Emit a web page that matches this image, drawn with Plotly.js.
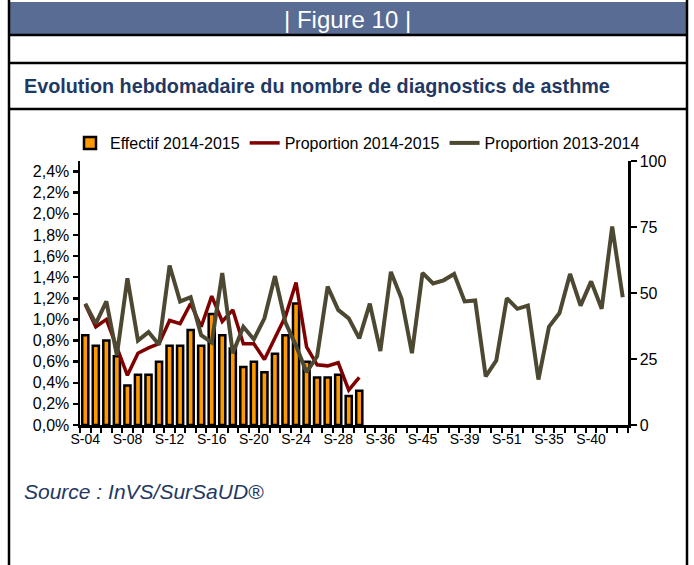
<!DOCTYPE html>
<html>
<head>
<meta charset="utf-8">
<script src="https://cdn.plot.ly/plotly-3.0.1.min.js"></script>
<style>
  html, body { margin: 0; padding: 0; background: #ffffff; }
  #chart { width: 694px; height: 565px; }
</style>
</head>
<body>
<div id="chart"></div>
<script>
// ---- Data ----
const tickLabels = ["S-04", "S-08", "S-12", "S-16", "S-20", "S-24", "S-28",
                    "S-36", "S-45", "S-39", "S-51", "S-35", "S-40"];

const leftTickValues = [0, 0.2, 0.4, 0.6, 0.8, 1.0, 1.2, 1.4, 1.6, 1.8, 2.0, 2.2, 2.4];
const leftTickLabels = ["0,0%", "0,2%", "0,4%", "0,6%", "0,8%", "1,0%", "1,2%",
                        "1,4%", "1,6%", "1,8%", "2,0%", "2,2%", "2,4%"];

// Effectif 2014-2015 (weekly count, right axis 0-100)
const effectif2014_2015 = [34, 30, 32, 26, 15, 19, 19, 24, 30, 30, 36, 30, 42, 34,
                           29, 22, 24, 20, 27, 34, 46, 24, 18, 18, 19, 11, 13];

// Proportion 2014-2015 (% , left axis)
const proportion2014_2015 = [1.14, 0.93, 1.00, 0.73, 0.47, 0.68, 0.73, 0.77, 0.99, 0.96,
                             1.15, 0.93, 1.22, 0.98, 1.09, 0.77, 0.77, 0.62, 0.82, 1.03,
                             1.35, 0.74, 0.57, 0.56, 0.59, 0.33, 0.45];

// Proportion 2013-2014 (% , left axis)
const proportion2013_2014 = [1.15, 0.96, 1.17, 0.66, 1.39, 0.80, 0.88, 0.76, 1.51, 1.17,
                             1.21, 0.85, 0.78, 1.44, 0.68, 0.93, 0.81, 1.01, 1.41, 0.97,
                             0.75, 0.50, 0.65, 1.31, 1.09, 1.01, 0.82, 1.15, 0.70, 1.45,
                             1.20, 0.68, 1.44, 1.34, 1.37, 1.43, 1.17, 1.18, 0.46, 0.61,
                             1.20, 1.10, 1.13, 0.43, 0.93, 1.06, 1.43, 1.13, 1.36, 1.10,
                             1.88, 1.21];

const nWeeks = proportion2013_2014.length;
const weekIndex = (arr) => arr.map((_, i) => i);
const tickPositions = tickLabels.map((_, i) => i * 4);

// ---- layout helpers (pixel -> paper) ----
const W = 694, H = 565;
const M = { l: 80, r: 66, t: 161, b: 140 };
const PW = W - M.l - M.r, PH = H - M.t - M.b;
const px = (x) => (x - M.l) / PW;
const py = (y) => (H - M.b - y) / PH;

const FONT = "Liberation Sans, Arial, sans-serif";
const NAVY = "#1F3864";

const traces = [
  {
    type: "bar",
    name: "Effectif 2014-2015",
    x: weekIndex(effectif2014_2015),
    y: effectif2014_2015,
    yaxis: "y",
    width: 0.58,
    marker: { color: "#FF9900", line: { color: "#000000", width: 2.5 } },
    hoverinfo: "skip"
  },
  {
    type: "scatter",
    mode: "lines",
    name: "Proportion 2014-2015",
    x: weekIndex(proportion2014_2015),
    y: proportion2014_2015,
    yaxis: "y2",
    line: { color: "#800000", width: 3.5 },
    hoverinfo: "skip"
  },
  {
    type: "scatter",
    mode: "lines",
    name: "Proportion 2013-2014",
    x: weekIndex(proportion2013_2014),
    y: proportion2013_2014,
    yaxis: "y2",
    line: { color: "#4D4831", width: 4 },
    hoverinfo: "skip"
  }
];

const blackLine = (x0, y0, x1, y1, w) => ({
  type: "line", xref: "paper", yref: "paper",
  x0: px(x0), y0: py(y0), x1: px(x1), y1: py(y1),
  line: { color: "#000000", width: w }
});

const layout = {
  width: W, height: H,
  margin: M,
  paper_bgcolor: "#ffffff",
  plot_bgcolor: "#ffffff",
  font: { family: FONT, color: "#000000", size: 16 },
  showlegend: true,
  legend: {
    orientation: "h",
    x: px(70), xanchor: "left",
    y: py(143), yanchor: "middle",
    font: { family: FONT, size: 16, color: "#000000" },
    bgcolor: "rgba(0,0,0,0)",
    itemwidth: 30,
    tracegroupgap: 0
  },
  xaxis: {
    range: [-0.5, nWeeks - 0.5],
    tickvals: tickPositions,
    ticktext: tickLabels,
    ticks: "",
    showgrid: false,
    zeroline: false,
    showline: true,
    linecolor: "#000000",
    linewidth: 2.5,
    tickfont: { family: FONT, size: 14, color: "#000000" },
    minor: { ticks: "outside", tick0: -0.5, dtick: 1, ticklen: 5, tickwidth: 2, tickcolor: "#000000", showgrid: false }
  },
  yaxis: {
    side: "right",
    range: [0, 100],
    dtick: 25,
    tick0: 0,
    ticks: "outside",
    ticklen: 6,
    tickwidth: 2.5,
    tickcolor: "#000000",
    showgrid: false,
    zeroline: false,
    showline: true,
    linecolor: "#000000",
    linewidth: 2.5,
    tickfont: { family: FONT, size: 16, color: "#000000" }
  },
  yaxis2: {
    overlaying: "y",
    side: "left",
    range: [0, 2.5],
    tickvals: leftTickValues,
    ticktext: leftTickLabels,
    ticks: "outside",
    ticklen: 5,
    tickwidth: 2.5,
    tickcolor: "#000000",
    showgrid: false,
    zeroline: false,
    showline: true,
    linecolor: "#000000",
    linewidth: 2.5,
    tickfont: { family: FONT, size: 16, color: "#000000" }
  },
  shapes: [
    { type: "rect", xref: "paper", yref: "paper", layer: "below",
      x0: px(9), x1: px(687), y0: py(2), y1: py(34),
      fillcolor: "#586C94", line: { width: 0 } },
    blackLine(9, 0, 9, 565, 2.5),
    blackLine(687, 0, 687, 565, 2.5),
    blackLine(9, 35, 687, 35, 2.5),
    blackLine(9, 63, 687, 63, 2.5),
    blackLine(9, 109, 687, 109, 2.5)
  ],
  annotations: [
    { xref: "paper", yref: "paper", x: px(347), y: py(19), xanchor: "center", yanchor: "middle",
      text: "| Figure 10 |", showarrow: false,
      font: { family: FONT, size: 24, color: "#ffffff" } },
    { xref: "paper", yref: "paper", x: px(22), y: py(86), xanchor: "left", yanchor: "middle",
      text: "<b>Evolution hebdomadaire du nombre de diagnostics de asthme</b>", showarrow: false,
      font: { family: FONT, size: 19.8, color: NAVY } },
    { xref: "paper", yref: "paper", x: px(22), y: py(491), xanchor: "left", yanchor: "middle",
      text: "<i>Source : InVS/SurSaUD®</i>", showarrow: false,
      font: { family: FONT, size: 21, color: NAVY } }
  ]
};

Plotly.newPlot("chart", traces, layout, { displayModeBar: false, staticPlot: true });
</script>
</body>
</html>
